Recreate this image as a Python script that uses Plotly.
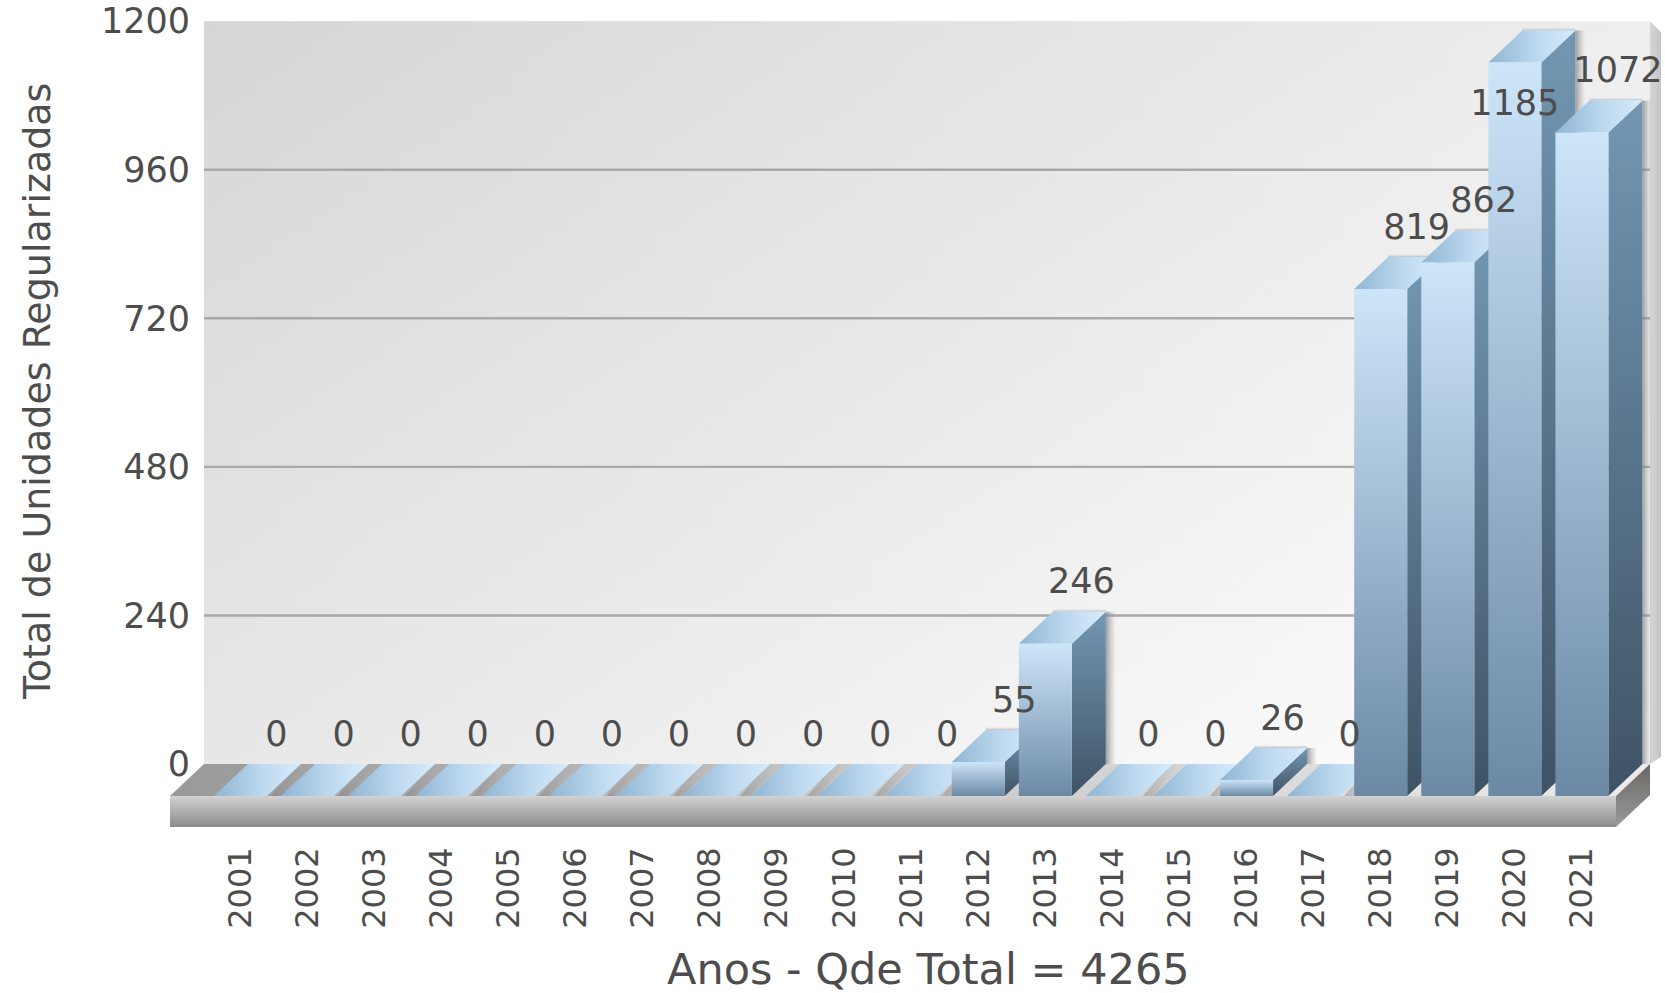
import numpy as np
import plotly.graph_objects as go

years = list(range(2001, 2022))
values = [0, 0, 0, 0, 0, 0, 0, 0, 0, 0, 0, 55, 246, 0, 0, 26, 0, 819, 862, 1185, 1072]
y_ticks = [0, 240, 480, 720, 960, 1200]
x_title = "Anos - Qde Total = 4265"
y_title = "Total de Unidades Regularizadas"

W, H = 1665, 993
TEXT = "#4d4d4d"
FONT = "DejaVu Sans, Verdana, sans-serif"

# scale: pixels per category / per unit; y axis values are read on the back wall
PX_X, PX_Y = 67.07, 0.619
X0_PX, Y0_PX = 240.5, 764.0
PLOT_BOTTOM = 840.0


def xd(px):
    return 2001 + (px - X0_PX) / PX_X


def dx_(px):
    return px / PX_X


def dy_(px):
    return px / PX_Y


x_range = [xd(0), xd(W)]
y_range = [(Y0_PX - PLOT_BOTTOM) / PX_Y, Y0_PX / PX_Y]

DEPTH_X, DEPTH_Y = dx_(34), dy_(32)
HALF = dx_(26.5)
FRONT_BASE = -DEPTH_Y
WALL_L, WALL_R = xd(204), xd(1650)
WALL_T = y_ticks[-1]

fig = go.Figure()


def poly(xs, ys, kind, stops):
    """Filled polygon; stops run low->high along the gradient direction."""
    fig.add_trace(go.Scatter(
        x=list(xs) + [xs[0]], y=list(ys) + [ys[0]], mode="lines",
        line=dict(width=0), fill="toself", hoverinfo="skip", showlegend=False,
        fillgradient=dict(type=kind, colorscale=stops)))


# back wall: soft diagonal grey gradient
gx = np.linspace(WALL_L, WALL_R, 81)
gy = np.linspace(0, WALL_T, 61)
u = (np.arange(80) + .5) / 80
v_ = (np.arange(60) + .5) / 60
uu, vv = np.meshgrid(u, v_)
z = (1 - uu) * (1 - vv) * 231 + uu * (1 - vv) * 254 + (1 - uu) * vv * 214 + uu * vv * 238
fig.add_trace(go.Heatmap(x=gx, y=gy, z=z, zmin=200, zmax=255, showscale=False, hoverinfo="skip",
                         colorscale=[[0, "rgb(200,200,200)"], [1, "rgb(255,255,255)"]]))

# wall right side
tx = dx_(11)
poly([WALL_R, WALL_R + tx, WALL_R + tx, WALL_R],
     [WALL_T, WALL_T - dy_(11), dy_(7), 0], "horizontal",
     [[0, "#d6d6d6"], [1, "#c4c4c4"]])

# grid lines
gl_x, gl_y = [], []
for t in y_ticks[1:-1]:
    gl_x += [WALL_L, WALL_R, None]
    gl_y += [t, t, None]
fig.add_trace(go.Scatter(x=gl_x, y=gl_y, mode="lines", line=dict(color="#a9a9a9", width=2.4),
                         hoverinfo="skip", showlegend=False))

# floor and slab
FL, FR = xd(170), xd(1616)
SLAB = FRONT_BASE - dy_(31)
poly([FL, WALL_L, WALL_R, FR], [FRONT_BASE, 0, 0, FRONT_BASE], "horizontal",
     [[0, "#999999"], [0.45, "#c6c6c6"], [1, "#ececec"]])
poly([FL, FR, FR, FL], [SLAB, SLAB, FRONT_BASE, FRONT_BASE], "vertical",
     [[0, "#8b8b8b"], [1, "#d2d2d2"]])
poly([FR, WALL_R, WALL_R, FR], [SLAB, SLAB + DEPTH_Y, 0, FRONT_BASE], "vertical",
     [[0, "#9a9a9a"], [1, "#6b6763"]])

# bars, left to right
for yr, val in zip(years, values):
    L, R = yr - HALF, yr + HALF
    if val > 0:
        # cast shadow on wall
        sw = dx_(10)
        poly([R + DEPTH_X, R + DEPTH_X + sw, R + DEPTH_X + sw, R + DEPTH_X],
             [val, val, 0, 0], "horizontal",
             [[0, "rgba(130,130,130,0.75)"], [1, "rgba(170,170,170,0)"]])
        poly([L + DEPTH_X, R + DEPTH_X, R + DEPTH_X, L + DEPTH_X],
             [val, val, val + dy_(3), val + dy_(3)], "vertical",
             [[0, "rgba(150,150,150,0.55)"], [1, "rgba(190,190,190,0)"]])
        top = val + FRONT_BASE
        # side
        poly([R, R + DEPTH_X, R + DEPTH_X, R], [FRONT_BASE, 0, val, top], "vertical",
             [[0, "#3f5365"], [1, "#7397b3"]])
    else:
        top = FRONT_BASE
        poly([R + DEPTH_X - dx_(2), R + DEPTH_X + dx_(10), R + dx_(14), R + dx_(4)],
             [0, 0, FRONT_BASE, FRONT_BASE], "horizontal",
             [[0, "rgba(120,120,120,0.45)"], [1, "rgba(170,170,170,0)"]])
    # top face
    poly([L, R, R + DEPTH_X, L + DEPTH_X], [top, top, val, val], "horizontal",
         [[0, "#8fb5d4"], [0.55, "#bcd8ef"], [1, "#d8ecfb"]])
    if val > 0:
        # front face
        poly([L, R, R, L], [FRONT_BASE, FRONT_BASE, top, top], "vertical",
             [[0, "#6b89a5"], [1, "#cde5f9"]])

# value labels
lx = [yr if v >= 1100 else yr + dx_(36) for yr, v in zip(years, values)]
ly = [v - dy_(76) if v >= 1100 else v + dy_(27) for v in values]
fig.add_trace(go.Scatter(x=lx, y=ly, mode="text", text=[str(v) for v in values],
                         textposition="middle center", cliponaxis=False,
                         textfont=dict(family=FONT, size=35, color=TEXT),
                         hoverinfo="skip", showlegend=False))

fig.update_layout(
    width=W, height=H, autosize=False,
    margin=dict(l=0, r=0, t=0, b=0, pad=0),
    paper_bgcolor="white", plot_bgcolor="white", showlegend=False,
    xaxis=dict(range=x_range, domain=[0, 1], tickmode="array", tickvals=years,
               ticktext=[str(y) for y in years], tickangle=-90,
               tickfont=dict(family=FONT, size=32, color=TEXT),
               showgrid=False, zeroline=False, showline=False, ticks="",
               automargin=False, anchor="y"),
    yaxis=dict(range=y_range, domain=[1 - PLOT_BOTTOM / H, 1], tickmode="array", tickvals=y_ticks,
               ticktext=[str(t) for t in y_ticks],
               tickfont=dict(family=FONT, size=35, color=TEXT),
               showgrid=False, zeroline=False, showline=False, ticks="",
               automargin=False, anchor="free", position=190 / W),
    annotations=[
        dict(text=x_title, xref="paper", yref="paper", x=928 / W, y=1 - 969 / H,
             xanchor="center", yanchor="middle", showarrow=False,
             font=dict(family=FONT, size=43, color=TEXT)),
        dict(text=y_title, xref="paper", yref="paper", x=37 / W, y=1 - 392 / H,
             xanchor="center", yanchor="middle", showarrow=False, textangle=-90,
             font=dict(family=FONT, size=38, color=TEXT)),
    ],
)

fig.write_html("out.html", config=dict(displayModeBar=False),
               post_script="document.body.style.margin='0';")
